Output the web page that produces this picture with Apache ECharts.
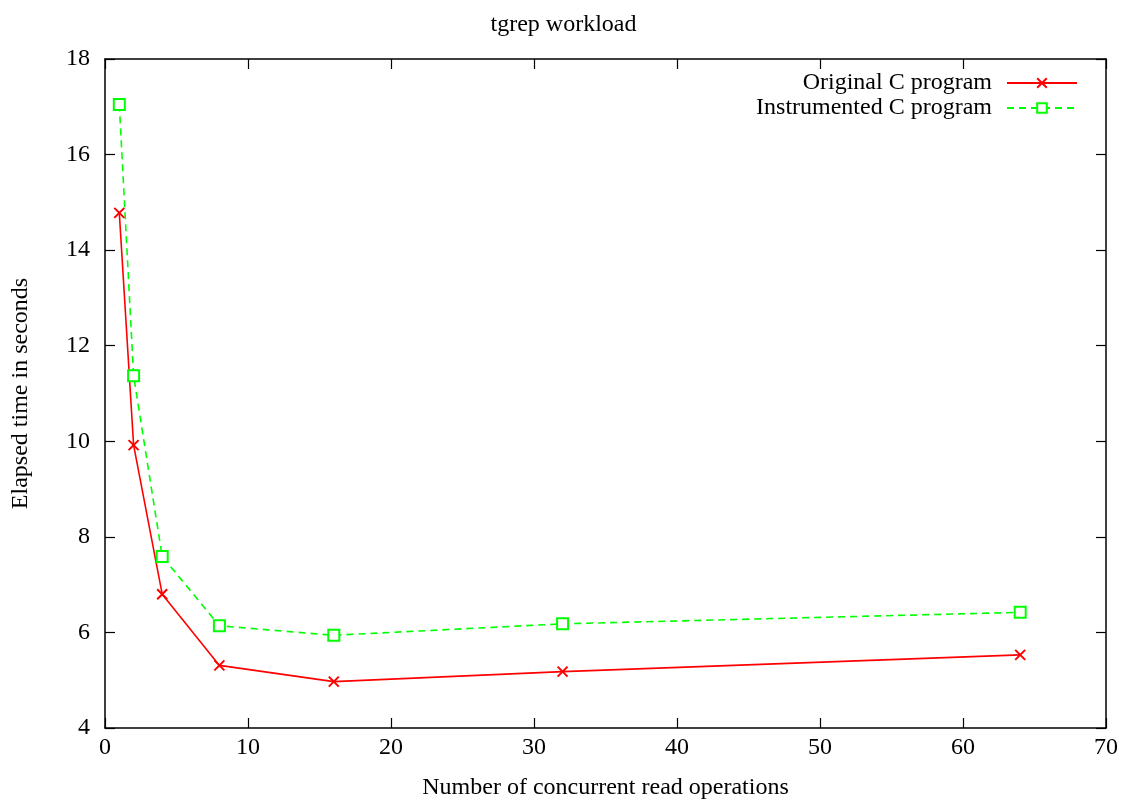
<!DOCTYPE html>
<html>
<head>
<meta charset="utf-8">
<script src="https://cdn.jsdelivr.net/npm/echarts@6/dist/echarts.min.js"></script>
<style>html,body{margin:0;padding:0;background:#fff}#c{width:1127px;height:802px}</style>
</head>
<body>
<div id="c"></div>
<script>
const concurrency = [1, 2, 4, 8, 16, 32, 64];
const originalC = [14.78, 9.92, 6.80, 5.31, 4.97, 5.18, 5.53];
const instrumentedC = [17.05, 11.37, 7.59, 6.14, 5.94, 6.18, 6.42];
const seriesNames = ['Original C program', 'Instrumented C program'];

const FONT = '"Liberation Serif", "Times New Roman", serif';
const chart = echarts.init(document.getElementById('c'));
const axisLine = { show: true, onZero: false, lineStyle: { color: '#000', width: 1.5 } };
const tick = { show: true, inside: true, length: 10, lineStyle: { color: '#000', width: 1.2 } };
const lbl = { color: '#000', fontFamily: FONT, fontSize: 24 };

chart.setOption({
  animation: false,
  backgroundColor: '#fff',
  title: {
    text: 'tgrep workload', left: 'center', top: 8,
    textStyle: { color: '#000', fontFamily: FONT, fontSize: 24, fontWeight: 'normal' }
  },
  grid: { left: 105, right: 21, top: 59, bottom: 74, outerBoundsMode: 'none', containLabel: false },
  legend: {
    right: 44, top: 66, orient: 'vertical', align: 'right',
    itemWidth: 70, itemHeight: 12, itemGap: 1,
    textStyle: { color: '#000', fontFamily: FONT, fontSize: 24, padding: [0, 10, 0, 0] },
    data: seriesNames
  },
  xAxis: [{
    type: 'value', min: 0, max: 70, interval: 10, position: 'bottom',
    name: 'Number of concurrent read operations', nameLocation: 'middle', nameGap: 48,
    nameTextStyle: lbl,
    axisLine: axisLine, axisTick: tick, splitLine: { show: false },
    axisLabel: Object.assign({ margin: 8 }, lbl)
  }, {
    type: 'value', min: 0, max: 70, interval: 10, position: 'top',
    axisLine: axisLine, axisTick: tick, splitLine: { show: false },
    axisLabel: { show: false }
  }],
  yAxis: [{
    type: 'value', min: 4, max: 18, interval: 2, position: 'left',
    name: 'Elapsed time in seconds', nameLocation: 'middle', nameGap: 72,
    nameTextStyle: lbl,
    axisLine: axisLine, axisTick: tick, splitLine: { show: false },
    axisLabel: Object.assign({ margin: 15 }, lbl)
  }, {
    type: 'value', min: 4, max: 18, interval: 2, position: 'right',
    axisLine: axisLine, axisTick: tick, splitLine: { show: false },
    axisLabel: { show: false }
  }],
  series: [{
    name: seriesNames[0], type: 'line',
    data: concurrency.map((x, i) => [x, originalC[i]]),
    symbol: 'path://M0,0L10,10M10,0L0,10', symbolSize: 10,
    lineStyle: { color: '#ff0000', width: 1.6 },
    itemStyle: { color: '#ff0000', borderColor: '#ff0000', borderWidth: 2 }
  }, {
    name: seriesNames[1], type: 'line',
    data: concurrency.map((x, i) => [x, instrumentedC[i]]),
    symbol: 'emptyRect', symbolSize: 11,
    lineStyle: { color: '#00ff00', width: 1.6, type: [7, 5] },
    itemStyle: { color: '#00ff00', borderColor: '#00ff00', borderWidth: 1.6 }
  }]
});
</script>
</body>
</html>
